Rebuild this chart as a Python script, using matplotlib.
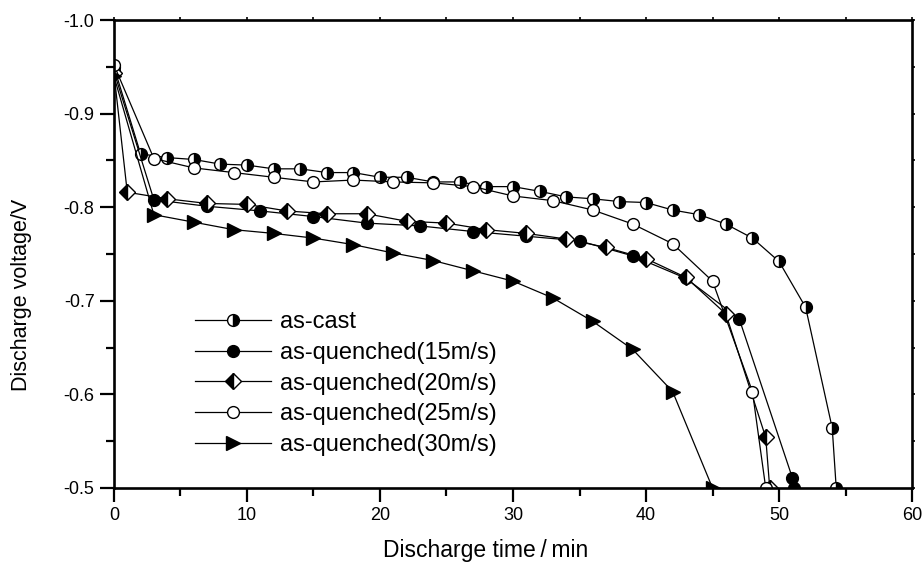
import matplotlib
matplotlib.use("Agg")
import matplotlib.pyplot as plt
from matplotlib.ticker import MultipleLocator, FormatStrFormatter, NullFormatter

plt.rcParams['font.family'] = ['Liberation Sans', 'DejaVu Sans']
plt.rcParams['axes.unicode_minus'] = False

# discharge curves (time in min, voltage in V)
t_cast = [0, 2, 4, 6, 8, 10, 12, 14, 16, 18, 20, 22, 24, 26, 28, 30, 32, 34,
          36, 38, 40, 42, 44, 46, 48, 50, 52, 54, 54.3]
v_cast = [-0.950, -0.857, -0.853, -0.851, -0.846, -0.845, -0.841, -0.841, -0.837,
          -0.837, -0.832, -0.832, -0.827, -0.827, -0.822, -0.822, -0.817, -0.811,
          -0.809, -0.806, -0.805, -0.797, -0.792, -0.782, -0.767, -0.742, -0.693,
          -0.564, -0.500]

t_q15 = [0, 3, 7, 11, 15, 19, 23, 27, 31, 35, 39, 43, 47, 51, 51.1]
v_q15 = [-0.945, -0.808, -0.801, -0.796, -0.790, -0.783, -0.780, -0.774, -0.769,
         -0.764, -0.748, -0.724, -0.681, -0.511, -0.500]

t_q20 = [0, 1, 4, 7, 10, 13, 16, 19, 22, 25, 28, 31, 34, 37, 40, 43, 46, 49, 49.3]
v_q20 = [-0.943, -0.816, -0.809, -0.804, -0.803, -0.796, -0.793, -0.793, -0.785,
         -0.783, -0.776, -0.772, -0.766, -0.757, -0.745, -0.725, -0.686, -0.554,
         -0.500]

t_q25 = [0, 3, 6, 9, 12, 15, 18, 21, 24, 27, 30, 33, 36, 39, 42, 45, 48, 49]
v_q25 = [-0.952, -0.852, -0.842, -0.837, -0.832, -0.827, -0.829, -0.827, -0.826,
         -0.822, -0.812, -0.807, -0.797, -0.782, -0.761, -0.721, -0.603, -0.500]

t_q30 = [0, 3, 6, 9, 12, 15, 18, 21, 24, 27, 30, 33, 36, 39, 42, 45]
v_q30 = [-0.940, -0.792, -0.784, -0.776, -0.772, -0.767, -0.760, -0.751, -0.743,
         -0.732, -0.721, -0.703, -0.678, -0.648, -0.603, -0.500]

labels = ['as-cast', 'as-quenched(15m/s)', 'as-quenched(20m/s)',
          'as-quenched(25m/s)', 'as-quenched(30m/s)']

fig = plt.figure(figsize=(9.22, 5.64), dpi=100)
ax = fig.add_axes([0.1236, 0.1348, 0.8656, 0.8297])

common = dict(color='black', lw=0.9, mec='black', mew=1.0)
ax.plot(t_cast, v_cast, marker='o', ms=8.5, fillstyle='right',
        mfc='black', mfcalt='white', label=labels[0], **common)
ax.plot(t_q15, v_q15, marker='o', ms=8.5, mfc='black', label=labels[1], **common)
ax.plot(t_q20, v_q20, marker='D', ms=8, fillstyle='left',
        mfc='black', mfcalt='white', label=labels[2], **common)
ax.plot(t_q25, v_q25, marker='o', ms=8.5, mfc='white', label=labels[3], **common)
ax.plot(t_q30, v_q30, marker='>', ms=10, mfc='black', label=labels[4], **common)

ax.set_xlim(0, 60)
ax.set_ylim(-0.5, -1.0)
ax.xaxis.set_major_locator(MultipleLocator(10))
ax.xaxis.set_minor_locator(MultipleLocator(5))
ax.yaxis.set_major_locator(MultipleLocator(0.1))
ax.yaxis.set_minor_locator(MultipleLocator(0.05))
ax.yaxis.set_major_formatter(FormatStrFormatter('%.1f'))

ax.tick_params(which='major', direction='out', length=10, width=1.6,
               labelsize=13, pad=4)
ax.tick_params(which='minor', direction='out', length=6, width=1.6)
for s in ax.spines.values():
    s.set_linewidth(1.9)

# small outward ticks on the top and right frame
top = ax.secondary_xaxis('top')
top.xaxis.set_major_locator(MultipleLocator(5))
top.xaxis.set_major_formatter(NullFormatter())
top.tick_params(direction='out', length=2.5, width=1.2)
right = ax.secondary_yaxis('right')
right.yaxis.set_major_locator(MultipleLocator(0.05))
right.yaxis.set_major_formatter(NullFormatter())
right.tick_params(direction='out', length=2.5, width=1.2)

ax.set_xlabel('Discharge time\u2009/\u2009min', fontsize=16.5)
ax.set_ylabel('Discharge voltage/V', fontsize=15.5)
ax.xaxis.set_label_coords(0.466, -0.108)
ax.yaxis.set_label_coords(-0.103, 0.412)

ax.legend(loc='upper left', bbox_to_anchor=(0.1015, 0.378), frameon=False,
          fontsize=17, handlelength=3.2, handletextpad=0.42, labelspacing=0.37,
          borderaxespad=0, borderpad=0)

fig.savefig('out.png', dpi=100)
